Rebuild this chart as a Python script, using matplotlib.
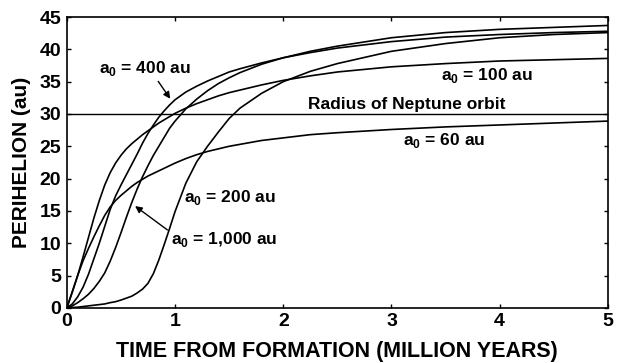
import numpy as np
import matplotlib
matplotlib.use('Agg')
import matplotlib.pyplot as plt

plt.rcParams['font.family'] = ['Liberation Sans', 'DejaVu Sans']
plt.rcParams['font.weight'] = 'bold'
plt.rcParams['mathtext.fontset'] = 'custom'
plt.rcParams['mathtext.rm'] = 'Liberation Sans:bold'
plt.rcParams['mathtext.bf'] = 'Liberation Sans:bold'

# time grid (million years) shared by all curves
t = [0, 0.05, 0.1, 0.15, 0.2, 0.25, 0.3, 0.35, 0.4, 0.45, 0.5, 0.55, 0.6, 0.65,
     0.7, 0.75, 0.8, 0.85, 0.9, 0.95, 1.0, 1.1, 1.2, 1.3, 1.4, 1.5, 1.6, 1.8,
     2.0, 2.25, 2.5, 3.0, 3.5, 4.0, 4.5, 5.0]

# perihelion (au) for each a0
q60 = [0, 2.5, 5.0, 7.3, 9.2, 11.0, 12.7, 14.3, 15.6, 16.6, 17.4, 18.1, 18.8, 19.4,
       19.9, 20.4, 20.8, 21.2, 21.6, 22.0, 22.4, 23.1, 23.7, 24.2, 24.6, 25.0, 25.3, 25.9,
       26.3, 26.8, 27.1, 27.6, 28.0, 28.3, 28.6, 28.9]
q100 = [0, 2.4, 5.0, 7.9, 10.9, 13.9, 16.6, 19.0, 20.9, 22.4, 23.6, 24.6, 25.4, 26.1,
        26.8, 27.4, 28.0, 28.6, 29.1, 29.6, 30.1, 30.9, 31.6, 32.2, 32.8, 33.3, 33.7, 34.5,
        35.2, 35.9, 36.5, 37.3, 37.8, 38.2, 38.4, 38.6]
q400 = [0, 0.6, 1.7, 3.2, 5.2, 7.6, 10.0, 12.6, 15.2, 17.3, 19.0, 20.6, 22.2, 23.8,
        25.5, 27.0, 28.3, 29.5, 30.5, 31.4, 32.2, 33.4, 34.3, 35.1, 35.8, 36.5, 37.0, 37.9,
        38.7, 39.5, 40.2, 41.2, 41.9, 42.3, 42.6, 42.8]
q1000 = [0, 0.3, 0.8, 1.4, 2.1, 3.0, 4.1, 5.4, 7.2, 9.3, 11.6, 14.0, 16.3, 18.4,
         20.3, 22.0, 23.6, 25.0, 26.4, 27.8, 28.9, 30.8, 32.3, 33.6, 34.7, 35.6, 36.4, 37.7,
         38.7, 39.7, 40.5, 41.8, 42.6, 43.1, 43.4, 43.7]
q200 = [0, 0.05, 0.1, 0.2, 0.3, 0.4, 0.5, 0.6, 0.8, 0.95, 1.2, 1.5, 1.8, 2.3,
        2.9, 3.8, 5.3, 7.4, 9.8, 12.3, 14.9, 19.3, 22.6, 25.0, 27.2, 29.3, 30.9, 33.2,
        35.0, 36.6, 37.8, 39.7, 40.9, 41.8, 42.3, 42.6]

neptune = 30

fig = plt.figure(figsize=(6.19, 3.63), dpi=100)
ax = fig.add_axes([0.108, 0.152, 0.874, 0.801])

for q in [q60, q100, q400, q1000, q200]:
    ax.plot(t, q, color='black', lw=1.2)
ax.axhline(neptune, color='black', lw=1.0)

ax.set_xlim(0, 5)
ax.set_ylim(0, 45)
ax.set_xticks(range(0, 6))
ax.set_yticks(range(0, 46, 5))
ax.tick_params(direction='in', top=True, right=True, length=3, width=1,
               labelsize=14, pad=4)
for s in ax.spines.values():
    s.set_linewidth(1.2)

ax.set_xlabel('TIME FROM FORMATION (MILLION YEARS)', fontsize=15.5, fontweight='bold', labelpad=8)
ax.set_ylabel('PERIHELION (au)', fontsize=15, fontweight='bold', labelpad=6)

fs = 12.5
ax.text(0.72, 37.0, r'a$_0$ = 400 au', fontsize=fs, ha='center', va='center')
ax.annotate('', xy=(0.97, 32.0), xytext=(0.83, 35.4),
            arrowprops=dict(arrowstyle='-|>', color='black', lw=1, mutation_scale=10))
ax.text(3.88, 36.0, r'a$_0$ = 100 au', fontsize=fs, ha='center', va='center')
ax.text(3.14, 31.4, 'Radius of Neptune orbit', fontsize=fs, ha='center', va='center')
ax.text(3.49, 25.9, r'a$_0$ = 60 au', fontsize=fs, ha='center', va='center')
ax.text(1.51, 17.0, r'a$_0$ = 200 au', fontsize=fs, ha='center', va='center')
ax.text(1.45, 10.5, r'a$_0$ = 1,000 au', fontsize=fs, ha='center', va='center')
ax.annotate('', xy=(0.61, 16.0), xytext=(0.95, 11.8),
            arrowprops=dict(arrowstyle='-|>', color='black', lw=1, mutation_scale=10))

fig.savefig('out.png', dpi=100)
